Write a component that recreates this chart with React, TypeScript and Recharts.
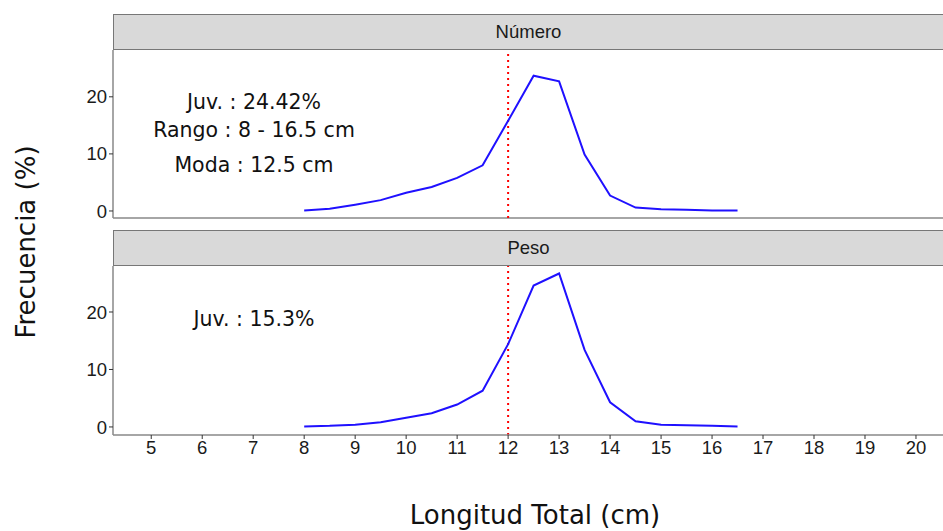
import { LineChart, Line, XAxis, YAxis, ReferenceLine } from "recharts";

// ── Data ──────────────────────────────────────────────────────────
const lengths = [8, 8.5, 9, 9.5, 10, 10.5, 11, 11.5, 12, 12.5, 13, 13.5, 14, 14.5, 15, 15.5, 16, 16.5];
const numero = [0.1, 0.4, 1.1, 1.9, 3.2, 4.2, 5.8, 8, 15.8, 23.7, 22.7, 9.9, 2.7, 0.6, 0.3, 0.2, 0.1, 0.1];
const peso = [0.1, 0.2, 0.4, 0.8, 1.6, 2.4, 3.9, 6.3, 14.4, 24.6, 26.7, 13.4, 4.3, 1, 0.4, 0.3, 0.2, 0.1];
const xTicks = [5, 6, 7, 8, 9, 10, 11, 12, 13, 14, 15, 16, 17, 18, 19, 20];
const yTicks = [0, 10, 20];
const juvLength = 12;

const numeroData = lengths.map((x, i) => ({ x, y: numero[i] }));
const pesoData = lengths.map((x, i) => ({ x, y: peso[i] }));

const FONT = "'Liberation Sans', Arial, sans-serif";
const WIDE = "'DejaVu Sans', sans-serif";
const AXIS = "#888";
const tick = { fill: "#1a1a1a", fontSize: 18.5, fontFamily: FONT };

function Strip({ top, label }: { top: number; label: string }) {
  return (
    <div style={{
      position: "absolute", left: 113, top, width: 830, height: 36, boxSizing: "border-box",
      background: "#d9d9d9", border: "1.5px solid #777", borderRight: "none",
      display: "flex", alignItems: "center", justifyContent: "center",
      fontFamily: FONT, fontSize: 18.5, color: "#1a1a1a",
    }}>{label}</div>
  );
}

function Note({ top, text }: { top: number; text: string }) {
  return (
    <div style={{
      position: "absolute", left: 104, width: 300, top, textAlign: "center",
      fontFamily: WIDE, fontSize: 20.5, color: "#111",
    }}>{text}</div>
  );
}

export default function App() {
  return (
    <div style={{ position: "absolute", left: 0, top: 0, width: 943, height: 531, background: "#fff", overflow: "hidden" }}>
      <Strip top={14} label="Número" />
      <div style={{ position: "absolute", left: 0, top: 50 }}>
        <LineChart width={943} height={178} data={numeroData} margin={{ top: 0, right: 0, bottom: 10, left: 0 }}>
          <XAxis type="number" dataKey="x" domain={[4.25, 20.53]} ticks={xTicks} hide />
          <YAxis type="number" domain={[-1.23, 28.2]} ticks={yTicks} interval={0} width={113} tick={tick}
            axisLine={{ stroke: AXIS, strokeWidth: 1.5 }} tickLine={{ stroke: "#333" }} tickSize={4} />
          <ReferenceLine segment={[{ x: 4.25, y: -1.23 }, { x: 20.53, y: -1.23 }]} stroke={AXIS} strokeWidth={1.5} />
          <ReferenceLine x={juvLength} stroke="#ff0000" strokeDasharray="2 4" strokeWidth={2} />
          <Line type="linear" dataKey="y" stroke="#1f10ff" strokeWidth={2} dot={false} isAnimationActive={false} />
        </LineChart>
      </div>
      <Strip top={230} label="Peso" />
      <div style={{ position: "absolute", left: 0, top: 266 }}>
        <LineChart width={943} height={199} data={pesoData} margin={{ top: 0, right: 0, bottom: 0, left: 0 }}>
          <XAxis type="number" dataKey="x" domain={[4.25, 20.53]} ticks={xTicks} interval={0} height={30} tick={tick}
            axisLine={{ stroke: AXIS, strokeWidth: 1.5 }} tickLine={{ stroke: "#333" }} tickSize={4} />
          <YAxis type="number" domain={[-1.4, 28]} ticks={yTicks} interval={0} width={113} tick={tick}
            axisLine={{ stroke: AXIS, strokeWidth: 1.5 }} tickLine={{ stroke: "#333" }} tickSize={4} />
          <ReferenceLine x={juvLength} stroke="#ff0000" strokeDasharray="2 4" strokeWidth={2} />
          <Line type="linear" dataKey="y" stroke="#1f10ff" strokeWidth={2} dot={false} isAnimationActive={false} />
        </LineChart>
      </div>
      <Note top={90} text="Juv. : 24.42%" />
      <Note top={118} text="Rango : 8 - 16.5 cm" />
      <Note top={153} text="Moda : 12.5 cm" />
      <Note top={307} text="Juv. : 15.3%" />
      <div style={{
        position: "absolute", left: 26, top: 242, transform: "translate(-50%, -50%) rotate(-90deg)",
        whiteSpace: "nowrap", fontFamily: WIDE, fontSize: 26, color: "#111",
      }}>Frecuencia (%)</div>
      <div style={{
        position: "absolute", left: 0, width: 1070, top: 500, textAlign: "center",
        fontFamily: WIDE, fontSize: 26, color: "#111",
      }}>Longitud Total (cm)</div>
    </div>
  );
}
